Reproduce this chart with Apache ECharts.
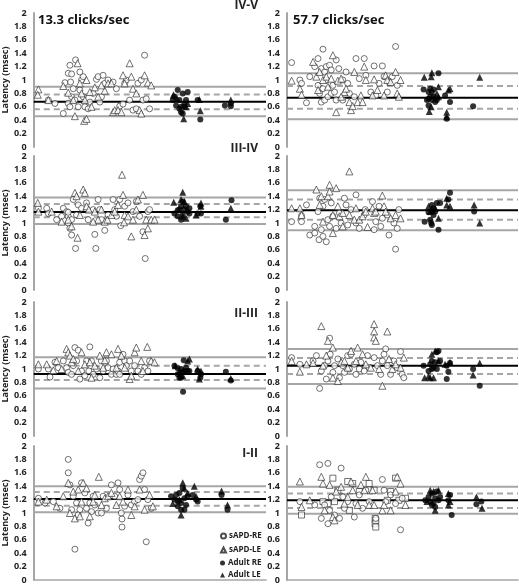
<!DOCTYPE html>
<html>
<head>
<meta charset="utf-8">
<script src="https://cdn.jsdelivr.net/npm/echarts@6/dist/echarts.min.js"></script>
<style>
  html, body { margin: 0; padding: 0; background: #fff; }
  #chart { width: 519px; height: 587px; }
</style>
</head>
<body>
<div id="chart"></div>
<script>
// x = position of subject along the (unlabelled) horizontal axis, y = latency in msec

// reference lines: [mean, mean-1sd, mean+1sd, mean-2sd, mean+2sd]
const refIVV13 = [0.675, 0.565, 0.785, 0.46, 0.90]
const refIVV57 = [0.735, 0.57, 0.91, 0.415, 1.10]
const refIIIIV13 = [1.165, 1.085, 1.285, 0.985, 1.38]
const refIIIIV57 = [1.19, 1.05, 1.35, 0.89, 1.49]
const refIIIII13 = [0.925, 0.835, 1.05, 0.71, 1.175]
const refIIIII57 = [1.05, 0.925, 1.165, 0.775, 1.30]
const refIII13 = [1.21, 1.11, 1.315, 1.01, 1.40]
const refIII57 = [1.19, 1.075, 1.29, 0.99, 1.39]

// IV-V 13.3
const ivv13SapdRE = [[64,0.65],[89,0.50],[94,0.96],[104,1.10],[114,1.09],[111,0.97],[109,1.22],[126,1.30],[119,0.87],[114,0.75],[104,0.65],[109,0.60],[124,0.70],[134,0.60],[144,1.00],[149,1.05],[139,0.85],[149,0.75],[154,0.60],[164,0.57],[169,0.67],[179,0.80],[189,1.01],[194,1.05],[199,0.67],[204,0.75],[209,1.07],[214,0.95],[224,1.00],[239,0.97],[249,0.87],[259,0.61],[269,0.64],[274,0.95],[279,1.00],[289,0.70],[299,0.55],[309,0.57],[314,0.95],[324,1.00],[329,0.70],[334,1.37],[339,0.72],[349,0.57],[139,1.12],[44,0.70]]
const ivv13SapdLE = [[14,0.86],[12,0.78],[44,0.70],[89,0.91],[104,0.81],[119,0.70],[124,0.46],[132,1.25],[144,0.80],[152,0.39],[159,0.42],[159,1.00],[169,0.82],[184,0.89],[194,0.75],[214,0.84],[224,0.95],[234,0.95],[239,0.52],[244,0.55],[254,0.55],[264,0.52],[269,1.07],[274,0.95],[289,1.25],[294,1.05],[299,0.87],[309,0.80],[319,0.55],[324,0.50],[334,1.07],[344,0.96],[354,0.92],[204,0.92],[139,0.95],[154,0.70],[174,0.60]]
const ivv13AdultRE = [[419,0.70],[424,0.75],[434,0.85],[439,0.70],[444,0.60],[444,0.52],[449,0.50],[454,0.60],[459,0.70],[464,0.82],[449,0.80],[439,0.57],[429,0.62],[454,0.65],[494,0.70],[502,0.41],[576,0.62],[594,0.65],[594,0.61]]
const ivv13AdultLE = [[421,0.78],[432,0.72],[452,0.42],[459,0.60],[464,0.65],[502,0.54],[594,0.70],[499,0.71]]

// IV-V 57.7
const ivv57SapdRE = [[14,1.26],[39,1.00],[44,0.95],[59,0.66],[69,1.05],[84,1.20],[94,1.32],[109,1.46],[104,1.17],[114,1.12],[119,1.20],[129,1.22],[134,1.15],[149,1.30],[157,1.17],[104,0.67],[114,0.70],[124,0.75],[134,0.80],[144,0.82],[139,0.92],[119,1.00],[109,0.87],[99,0.80],[94,0.92],[169,1.00],[179,1.12],[184,0.95],[189,0.80],[204,0.75],[209,1.32],[219,1.02],[234,1.32],[239,1.07],[254,0.82],[264,1.21],[269,0.77],[279,0.95],[289,1.21],[294,1.05],[304,0.82],[309,0.97],[319,1.05],[329,1.50],[334,0.92],[169,0.70],[149,0.70]]
const ivv57SapdLE = [[14,0.99],[39,0.87],[44,0.78],[79,1.27],[89,1.05],[94,0.85],[99,1.12],[109,1.00],[119,1.05],[124,0.90],[134,1.02],[139,1.37],[149,0.52],[154,0.99],[164,1.02],[174,0.82],[189,0.67],[194,0.55],[199,0.61],[204,1.12],[214,0.67],[224,0.77],[229,0.67],[234,1.20],[239,1.00],[259,0.77],[264,1.01],[274,0.85],[294,0.77],[299,1.07],[304,1.00],[314,0.97],[329,1.12],[334,0.80],[344,1.00],[339,0.75],[179,0.87],[164,0.75]]
const ivv57AdultRE = [[414,0.86],[429,0.82],[434,0.75],[439,0.70],[424,0.70],[429,0.62],[444,0.75],[449,0.67],[454,0.70],[434,0.87],[439,0.82],[444,0.86],[459,1.10],[479,0.77],[494,0.67],[484,0.42],[564,0.61],[429,0.72]]
const ivv57AdultLE = [[416,1.04],[437,1.05],[439,1.11],[459,0.90],[454,0.80],[431,0.53],[437,0.60],[484,0.52],[489,0.85],[494,0.87],[484,0.45],[584,1.04],[459,0.75]]

// III-IV 13.3
const iiiiv13SapdRE = [[14,1.22],[39,1.22],[44,1.14],[69,1.05],[84,1.10],[89,1.22],[99,1.17],[104,1.10],[104,1.00],[109,0.92],[114,0.82],[126,0.62],[114,1.05],[119,1.35],[129,1.12],[134,1.27],[144,1.22],[159,1.30],[164,1.05],[179,1.20],[184,0.83],[187,0.62],[194,1.35],[199,1.20],[204,1.05],[214,0.89],[224,1.12],[239,1.35],[244,1.20],[249,1.10],[259,1.35],[262,0.96],[274,1.25],[284,1.30],[299,1.17],[309,1.32],[319,1.10],[329,0.87],[336,0.47],[344,1.17],[349,1.20],[104,1.16]]
const iiiiv13SapdLE = [[12,1.30],[14,1.17],[54,1.17],[84,1.02],[104,1.05],[114,0.95],[124,1.45],[129,1.40],[132,0.78],[139,1.12],[149,1.50],[154,1.45],[159,1.25],[166,1.20],[184,1.17],[194,1.05],[204,1.20],[214,1.02],[222,1.05],[234,1.12],[244,1.17],[254,1.27],[266,1.72],[269,1.42],[272,1.01],[274,1.12],[284,1.10],[294,0.80],[299,1.05],[309,1.20],[314,1.35],[329,1.42],[334,0.82],[339,1.05],[344,0.92],[354,1.05],[364,1.05],[179,1.02]]
const iiiiv13AdultRE = [[424,1.14],[434,1.10],[439,1.20],[444,1.25],[444,1.05],[449,1.32],[454,1.20],[459,1.25],[464,1.17],[469,1.22],[469,1.14],[449,1.12],[434,1.19],[494,1.14],[504,1.14],[502,1.25],[579,1.05],[596,1.34]]
const iiiiv13AdultLE = [[422,1.31],[444,1.35],[449,1.46],[454,1.32],[449,1.10],[459,1.07],[504,1.30],[504,1.25],[594,1.22],[489,1.12]]

// III-IV 57.7
const iiiiv57SapdRE = [[14,1.02],[44,1.11],[44,1.02],[59,1.27],[69,0.82],[84,0.95],[84,0.85],[97,0.75],[109,0.80],[119,0.72],[104,0.90],[94,1.17],[99,1.37],[109,1.25],[114,1.35],[124,1.05],[129,0.95],[134,1.30],[139,1.10],[149,0.92],[159,1.15],[164,1.00],[174,1.37],[179,1.27],[184,0.97],[194,1.20],[209,1.42],[209,1.00],[219,0.92],[234,1.12],[237,1.20],[259,1.32],[264,0.90],[279,1.25],[284,0.95],[289,1.07],[304,1.12],[309,0.82],[324,1.00],[329,0.61],[334,0.92],[339,1.20],[269,1.02]]
const iiiiv57SapdLE = [[14,1.22],[39,1.22],[44,1.12],[89,1.50],[99,1.27],[104,1.40],[109,1.02],[124,1.40],[129,1.57],[129,1.47],[139,1.12],[139,0.85],[149,1.52],[154,1.25],[159,1.10],[169,1.15],[189,1.77],[189,1.12],[204,1.05],[209,1.22],[219,1.05],[229,1.10],[239,1.17],[244,0.94],[259,1.22],[264,1.15],[269,1.17],[289,1.41],[294,1.25],[299,1.17],[314,1.07],[329,1.12],[344,1.07],[169,0.95]]
const iiiiv57AdultRE = [[417,1.02],[429,1.16],[434,1.05],[437,1.00],[439,0.97],[444,1.22],[439,1.27],[449,1.17],[454,1.30],[459,0.90],[464,1.30],[444,1.12],[494,1.45],[489,1.35],[567,1.17]]
const iiiiv57AdultLE = [[429,1.25],[434,1.17],[439,1.20],[449,1.22],[459,1.07],[484,1.27],[494,1.25],[567,1.27],[584,1.00],[484,1.37]]

// II-III 13.3
const iiiii13SapdRE = [[14,1.00],[44,1.00],[49,0.88],[64,1.10],[74,1.02],[89,1.12],[99,1.02],[104,0.95],[114,0.92],[119,1.05],[124,1.32],[134,1.28],[139,0.85],[144,0.97],[154,0.90],[159,1.12],[166,0.97],[169,1.33],[174,1.12],[179,0.92],[189,1.00],[199,0.87],[204,1.12],[209,0.97],[219,1.12],[224,1.02],[234,0.92],[239,1.00],[249,0.92],[254,0.97],[259,1.10],[269,1.22],[274,1.12],[279,1.05],[289,1.12],[294,0.97],[304,1.05],[314,0.97],[324,0.92],[334,1.02],[344,0.97],[349,1.12],[259,0.92],[129,1.12]]
const iiiii13SapdLE = [[14,1.07],[39,1.07],[59,0.98],[69,1.12],[84,1.00],[99,1.30],[104,1.25],[109,1.20],[114,1.10],[119,1.15],[134,0.97],[144,1.25],[154,1.07],[169,1.10],[174,0.87],[184,1.05],[199,1.20],[209,1.02],[214,1.13],[219,1.25],[234,1.22],[249,1.02],[254,1.30],[264,1.20],[274,1.02],[289,0.85],[294,0.90],[304,1.25],[309,1.32],[324,1.12],[342,1.33],[354,1.12],[364,1.10],[329,0.97]]
const iiiii13AdultRE = [[424,1.05],[434,0.92],[439,0.87],[444,1.00],[449,0.95],[452,1.13],[454,0.97],[459,1.02],[464,0.97],[469,0.97],[444,0.87],[450,0.66],[494,0.97],[504,0.92],[502,0.87],[579,0.96],[594,0.83],[434,1.01]]
const iiiii13AdultLE = [[426,1.05],[439,0.97],[449,0.90],[469,1.15],[464,1.12],[494,1.00],[499,0.85],[594,0.86],[504,0.97]]

// II-III 57.7
const iiiii57SapdRE = [[14,1.17],[39,1.07],[89,1.20],[99,0.71],[104,0.97],[114,1.05],[119,0.85],[124,1.12],[129,1.46],[131,1.22],[139,0.95],[144,1.05],[154,1.15],[159,0.87],[169,1.05],[174,0.95],[184,1.20],[189,1.00],[194,1.22],[204,1.07],[209,0.92],[219,1.00],[224,1.10],[234,0.97],[244,1.20],[249,1.02],[264,1.17],[274,1.05],[284,0.92],[289,1.12],[299,1.30],[304,1.05],[314,0.92],[324,1.12],[334,1.02],[344,1.26],[349,0.92],[354,0.87],[79,1.12],[294,1.22]]
const iiiii57SapdLE = [[14,1.12],[39,0.96],[59,1.07],[79,1.09],[104,1.64],[109,1.05],[119,1.20],[124,1.42],[139,1.32],[139,0.87],[154,0.82],[164,1.10],[174,1.12],[184,1.02],[194,1.27],[209,1.12],[214,1.32],[229,1.22],[239,1.07],[254,1.02],[264,1.67],[264,1.56],[264,1.47],[269,1.42],[289,0.75],[304,1.56],[309,1.15],[319,1.00],[329,1.07],[344,1.02],[354,1.17],[279,1.00]]
const iiiii57AdultRE = [[414,1.05],[429,0.97],[434,1.07],[439,1.12],[444,1.02],[449,1.10],[454,1.25],[459,1.27],[464,1.12],[454,1.00],[484,1.05],[489,0.96],[494,1.09],[484,0.85],[564,1.00],[584,0.75],[439,1.00]]
const iiiii57AdultLE = [[417,0.87],[429,0.89],[434,0.87],[444,0.87],[449,1.27],[459,1.12],[479,1.07],[494,1.10],[564,0.91],[584,1.09],[439,1.22]]

// I-II 13.3
const iii13SapdRE = [[14,1.22],[34,1.15],[59,1.17],[79,1.07],[104,1.80],[104,1.60],[109,1.42],[114,1.05],[119,1.25],[124,0.46],[129,1.15],[139,1.05],[144,1.45],[154,1.30],[159,1.07],[164,0.85],[169,1.15],[174,1.02],[179,1.25],[184,1.12],[194,1.00],[204,1.00],[209,1.25],[219,1.07],[234,1.42],[244,1.25],[254,1.45],[259,1.35],[264,1.00],[266,0.91],[266,0.79],[274,1.10],[284,1.27],[294,1.12],[304,1.17],[314,1.20],[319,1.50],[324,1.55],[329,1.60],[334,1.35],[339,0.57],[344,1.20],[354,1.07],[134,0.97]]
const iii13SapdLE = [[14,1.17],[39,1.20],[69,1.10],[89,1.25],[104,1.45],[109,1.00],[119,1.32],[124,0.92],[134,1.35],[139,0.95],[149,1.45],[159,1.37],[169,0.95],[179,1.17],[184,1.27],[196,1.54],[204,1.12],[214,1.22],[224,1.25],[234,1.30],[249,1.12],[259,1.25],[269,1.17],[284,1.35],[294,0.97],[304,1.10],[319,1.35],[334,1.05],[349,1.27],[359,1.10],[144,1.17]]
const iii13AdultRE = [[414,1.25],[424,1.20],[429,1.27],[434,1.17],[439,1.30],[444,1.15],[449,1.37],[454,1.22],[459,1.12],[454,1.05],[444,1.05],[464,1.25],[479,1.27],[489,1.20],[494,1.17],[566,1.27],[584,1.05],[434,1.10]]
const iii13AdultLE = [[419,1.14],[444,0.97],[449,1.45],[454,1.37],[464,1.30],[484,1.40],[489,1.25],[566,1.33],[584,1.12],[439,1.20]]

// I-II 57.7
const iii57SapdRE = [[39,1.17],[99,1.72],[104,0.92],[114,1.12],[124,1.74],[124,0.84],[129,1.04],[134,1.24],[144,0.97],[159,0.92],[164,1.67],[169,1.24],[174,1.07],[184,1.17],[204,0.94],[209,1.14],[219,1.27],[229,1.07],[239,1.34],[249,1.17],[269,0.92],[289,1.50],[294,1.34],[299,1.17],[314,1.27],[329,1.14],[344,0.75],[349,1.22],[84,1.12]]
const iii57SapdLE = [[39,1.47],[44,1.09],[69,1.19],[104,1.54],[109,1.44],[114,1.04],[129,1.42],[139,0.94],[144,0.89],[149,1.32],[164,1.39],[174,1.14],[184,1.24],[194,1.47],[199,1.34],[214,1.12],[224,1.42],[234,1.34],[239,1.54],[249,1.12],[264,1.12],[289,1.04],[294,1.12],[314,1.04],[329,1.32],[334,1.54],[344,1.44],[359,1.12],[259,1.34]]
const iii57Squares = [[44,0.97],[109,1.17],[139,1.52],[144,1.17],[154,1.34],[184,1.47],[189,1.04],[199,1.44],[219,1.32],[249,1.44],[264,1.34],[267,0.92],[267,0.84],[269,0.79],[304,1.19],[314,1.32],[329,1.52],[339,1.19],[359,1.22],[174,1.24],[124,1.14],[269,0.89]]
const iii57AdultRE = [[419,1.19],[429,1.24],[434,1.17],[439,1.29],[444,1.14],[449,1.22],[454,1.32],[459,1.19],[439,1.12],[464,1.24],[489,1.19],[494,1.27],[499,0.97],[574,1.13],[589,1.17],[449,1.09]]
const iii57AdultLE = [[434,1.34],[444,1.32],[449,1.04],[459,1.34],[489,1.29],[494,1.17],[489,1.12],[574,1.24],[591,1.07],[424,1.17]]

const waveLabels = ['IV-V', 'III-IV', 'II-III', 'I-II']
const rateLabels = ['13.3 clicks/sec', '57.7 clicks/sec']
const seriesNames = ['sAPD-RE', 'sAPD-LE', 'Adult RE', 'Adult LE']

const panels = [
  { refs: refIVV13, pts: [ivv13SapdRE, ivv13SapdLE, ivv13AdultRE, ivv13AdultLE] },
  { refs: refIVV57, pts: [ivv57SapdRE, ivv57SapdLE, ivv57AdultRE, ivv57AdultLE] },
  { refs: refIIIIV13, pts: [iiiiv13SapdRE, iiiiv13SapdLE, iiiiv13AdultRE, iiiiv13AdultLE] },
  { refs: refIIIIV57, pts: [iiiiv57SapdRE, iiiiv57SapdLE, iiiiv57AdultRE, iiiiv57AdultLE] },
  { refs: refIIIII13, pts: [iiiii13SapdRE, iiiii13SapdLE, iiiii13AdultRE, iiiii13AdultLE] },
  { refs: refIIIII57, pts: [iiiii57SapdRE, iiiii57SapdLE, iiiii57AdultRE, iiiii57AdultLE] },
  { refs: refIII13, pts: [iii13SapdRE, iii13SapdLE, iii13AdultRE, iii13AdultLE] },
  { refs: refIII57, pts: [iii57SapdRE, iii57SapdLE, iii57AdultRE, iii57AdultLE], squares: iii57Squares },
]

const rowTops = [13, 156, 302, 446]
const font = 'Open Sans'
const axisGray = '#a6a6a6'

const markerStyles = [
  { symbol: 'circle', itemStyle: { color: '#fff', borderColor: '#222', borderWidth: 0.8 } },
  { symbol: 'triangle', itemStyle: { color: '#fff', borderColor: '#222', borderWidth: 0.8 } },
  { symbol: 'circle', itemStyle: { color: '#000' } },
  { symbol: 'triangle', itemStyle: { color: '#000' } },
]

const grid = []
const xAxis = []
const yAxis = []
const series = []

panels.forEach((p, i) => {
  const row = Math.floor(i / 2)
  const col = i % 2
  grid.push({
    left: col === 0 ? 32 : 287,
    width: col === 0 ? 234 : 231,
    top: rowTops[row],
    height: 134,
  })
  xAxis.push({
    gridIndex: i,
    type: 'value',
    min: 0,
    max: 700,
    show: row === 3,
    axisLine: { show: true, lineStyle: { color: axisGray, width: 1.5 } },
    axisTick: { show: false },
    axisLabel: { show: false },
    splitLine: { show: false },
  })
  yAxis.push({
    gridIndex: i,
    type: 'value',
    min: 0,
    max: 2,
    interval: 0.2,
    name: col === 0 ? 'Latency (msec)' : '',
    nameLocation: 'middle',
    nameGap: 22,
    nameTextStyle: { fontFamily: font, fontSize: 9, fontWeight: 'bold', color: '#222' },
    axisLine: { show: true, lineStyle: { color: axisGray, width: 2 } },
    axisTick: { show: false },
    splitLine: { show: false },
    axisLabel: {
      margin: 7,
      fontFamily: font,
      fontSize: 9,
      fontWeight: 'bold',
      color: '#222',
      formatter: (v) => String(Math.round(v * 10) / 10),
    },
  })

  // reference lines: mean (black), +-1 SD (grey dashed), +-2 SD (grey solid)
  const lineDefs = [
    { v: p.refs[0], color: '#000', type: 'solid', width: 2 },
    { v: p.refs[1], color: axisGray, type: [6, 4], width: 2 },
    { v: p.refs[2], color: axisGray, type: [6, 4], width: 2 },
    { v: p.refs[3], color: axisGray, type: 'solid', width: 2 },
    { v: p.refs[4], color: axisGray, type: 'solid', width: 2 },
  ]
  lineDefs.forEach((l) => {
    series.push({
      type: 'line',
      xAxisIndex: i,
      yAxisIndex: i,
      data: [[0, l.v], [700, l.v]],
      symbol: 'none',
      silent: true,
      z: 1,
      lineStyle: { color: l.color, type: l.type, width: l.width },
    })
  })

  if (p.squares) {
    series.push({
      name: 'other',
      type: 'scatter',
      xAxisIndex: i,
      yAxisIndex: i,
      data: p.squares,
      symbol: 'rect',
      symbolSize: 6,
      z: 2,
      itemStyle: { color: '#fff', borderColor: '#222', borderWidth: 0.8 },
    })
  }

  p.pts.forEach((pts, k) => {
    series.push({
      name: seriesNames[k],
      type: 'scatter',
      xAxisIndex: i,
      yAxisIndex: i,
      data: pts,
      symbol: markerStyles[k].symbol,
      symbolSize: k === 1 || k === 3 ? 7 : 6,
      z: 3,
      itemStyle: markerStyles[k].itemStyle,
    })
  })
})

const waveTops = [6, 150, 315, 455]
const graphic = waveLabels.map((t, r) => ({
  type: 'text',
  right: 519 - 258,
  top: Math.max(0, waveTops[r] - 7),
  style: { text: t, fontFamily: font, fontSize: 12, fontWeight: 'bold', fill: '#222' },
}))
graphic.push({
  type: 'text', left: 38, top: 14,
  style: { text: rateLabels[0], fontFamily: font, fontSize: 13, fontWeight: 'bold', fill: '#111' },
})
graphic.push({
  type: 'text', left: 293, top: 14,
  style: { text: rateLabels[1], fontFamily: font, fontSize: 13, fontWeight: 'bold', fill: '#111' },
})

// one legend box per entry so the column does not wrap at the bottom edge
const legendTops = [532, 546, 559, 571]
const legend = seriesNames.map((n, k) => ({
  data: [n],
  left: 220,
  top: legendTops[k],
  itemWidth: 5,
  itemHeight: 5,
  itemGap: 0,
  padding: 0,
  textStyle: { fontFamily: font, fontSize: 8, fontWeight: 'bold', color: '#222', padding: [0, 0, 0, -2] },
}))

const chart = echarts.init(document.getElementById('chart'), null, { renderer: 'canvas' })
chart.setOption({
  animation: false,
  backgroundColor: '#fff',
  grid: grid,
  xAxis: xAxis,
  yAxis: yAxis,
  legend: legend,
  graphic: graphic,
  series: series,
})
</script>
</body>
</html>
